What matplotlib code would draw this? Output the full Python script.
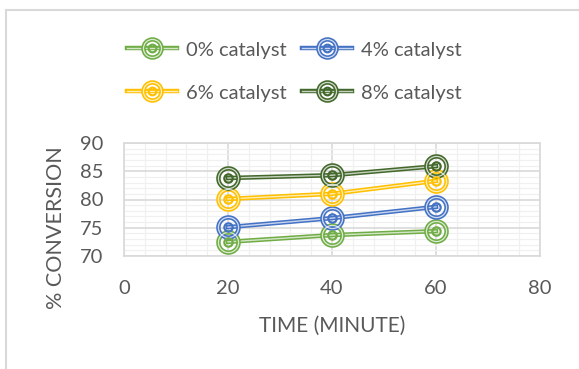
import matplotlib
matplotlib.use("Agg")
import matplotlib.pyplot as plt
from matplotlib.lines import Line2D
from matplotlib.legend_handler import HandlerTuple
from matplotlib.patches import Rectangle
from matplotlib.ticker import MultipleLocator

# Reaction time (minutes) and % conversion for each catalyst loading
time_min = [20, 40, 60]
conv_0 = [72.5, 73.7, 74.4]
conv_4 = [75.1, 76.7, 78.7]
conv_6 = [80.1, 81.0, 83.3]
conv_8 = [83.8, 84.3, 85.9]
series_labels = ["0% catalyst", "4% catalyst", "6% catalyst", "8% catalyst"]
series_colors = ["#70AD47", "#4472C4", "#FFC000", "#43682B"]
x_ticks = [0, 20, 40, 60, 80]
y_ticks = [70, 75, 80, 85, 90]

plt.rcParams["font.family"] = ["Lato", "DejaVu Sans"]
TXT = "#595959"

fig = plt.figure(figsize=(5.79, 3.69), dpi=100)
W, H = 579, 369
# chart-area outline
fig.patches.append(Rectangle((6 / W, -0.1), 1.2, (H - 10) / H + 0.1, transform=fig.transFigure,
                             fill=False, edgecolor="#D9D9D9", lw=1.5))

ax = fig.add_axes([124 / W, 1 - 256 / H, (540 - 124) / W, (256 - 143) / H])
ax.set_xlim(0, 80)
ax.set_ylim(70, 90)
ax.xaxis.set_major_locator(MultipleLocator(20))
ax.xaxis.set_minor_locator(MultipleLocator(4))
ax.yaxis.set_major_locator(MultipleLocator(5))
ax.yaxis.set_minor_locator(MultipleLocator(1))
ax.grid(which="major", color="#D9D9D9", lw=1.2)
ax.grid(which="minor", color="#F0F0F0", lw=0.9)
ax.set_axisbelow(True)
for s in ax.spines.values():
    s.set_color("#D9D9D9")
    s.set_linewidth(1.2)
ax.tick_params(which="both", length=0, colors=TXT, labelsize=14.5)
ax.tick_params(axis="y", pad=15)
ax.tick_params(axis="x", pad=17)
ax.set_xticks(x_ticks)
ax.set_yticks(y_ticks)


def series_artists(c, outer, inner):
    # double line and double-ring marker
    return [
        dict(color=c, lw=3.2, ls="-"),
        dict(color="white", lw=1.0, alpha=0.7, ls="-"),
        dict(ls="none", marker="o", ms=outer, mfc="none", mec=c, mew=3.2),
        dict(ls="none", marker="o", ms=outer, mfc="none", mec="white", mew=0.9, alpha=0.75),
        dict(ls="none", marker="o", ms=inner, mfc="none", mec=c, mew=1.6),
    ]


all_series = [conv_0, conv_4, conv_6, conv_8]
for ys, c in zip(all_series, series_colors):
    for k, kw in enumerate(series_artists(c, 14.5, 6.0)):
        ax.plot(time_min, ys, zorder=3 + 0.1 * k, **kw)

# one legend entry per series, laid out in two rows
legend_pos = [(127, 50), (302, 50), (127, 93), (302, 93)]
order = [0, 1, 2, 3]
for i, (lx, ly) in zip(order, legend_pos):
    h = tuple(Line2D([], [], **kw) for kw in series_artists(series_colors[i], 13, 5.5))
    fig.legend([h], [series_labels[i]],
               handler_map={tuple: HandlerTuple(ndivide=1, pad=0)},
               loc="center left", bbox_to_anchor=(lx / W, 1 - ly / H), frameon=False,
               borderpad=0, borderaxespad=0, fontsize=14.5, labelcolor=TXT,
               handlelength=2.5, handletextpad=0.45)

fig.text(332 / W, 1 - 326 / H, "TIME (MINUTE)", ha="center", va="center", fontsize=15, color=TXT)
fig.text(56 / W, 1 - 228 / H, "% CONVERSION", ha="center", va="center", rotation=90,
         fontsize=15.5, color=TXT)

fig.savefig("out.png", dpi=100)
